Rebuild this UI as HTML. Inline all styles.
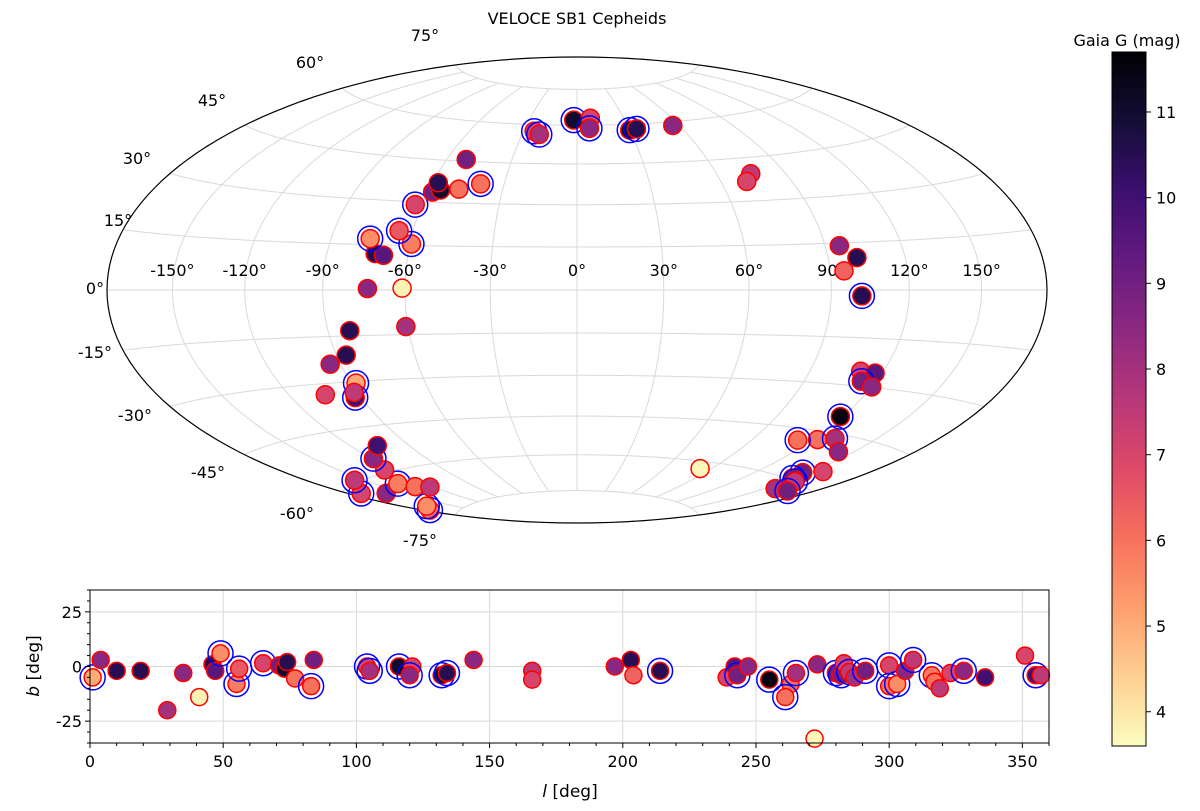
<!DOCTYPE html>
<html><head><meta charset="utf-8"><style>
body{margin:0;background:#fff;}
svg{display:block;font-family:"DejaVu Sans","Liberation Sans",sans-serif;}
</style></head><body>
<svg id="fig" width="1200" height="811" viewBox="0 0 1200 811">
<defs><linearGradient id="cb" x1="0" y1="0" x2="0" y2="1">
<stop offset="0" stop-color="#000004"/><stop offset="0.1" stop-color="#140e36"/><stop offset="0.2" stop-color="#3b0f70"/><stop offset="0.3" stop-color="#641a80"/><stop offset="0.4" stop-color="#8c2981"/><stop offset="0.5" stop-color="#b73779"/><stop offset="0.6" stop-color="#de4968"/><stop offset="0.7" stop-color="#f7705c"/><stop offset="0.8" stop-color="#fe9f6d"/><stop offset="0.9" stop-color="#fecf92"/><stop offset="1" stop-color="#fcfdbf"/></linearGradient></defs>
<text x="577" y="24" font-size="16" text-anchor="middle">VELOCE SB1 Cepheids</text>
<g id="sky"></g>
<g id="low"></g>
<g id="cbar"></g>
</svg>
<script>
const gl=[1,4,10,19,29,35,41,46,47,49,55,56,65,71,73,74,77,83,84,104,105,116,121,120,132,134,144,166,166,197,203,204,214,239,242,243,247,255,263,261,265,272,273,280,282,283,285,287,291,300,300,303,306,309,316,317,319,323,328,336,351,355,357];
const gb=[-5,3,-2,-2,-20,-3,-14,1,-2,6,-8,-1,1.5,0.5,-1,2,-5.5,-9,3,0,-2,0,0,-4,-4,-3,3,-2,-6,0,3,-4,-2,-5,0,-4,0,-6,-8,-14,-3,-33,1,-3,-4,1.5,-2.5,-5,-2,0.5,-9,-8,-2,3,-4,-7,-10,-3,-2,-5,5,-4,-4];
const gmag=[5,8.5,10.5,10.5,8,8.5,3.8,10.5,9.5,5.5,5.8,6.5,7,9,11,10.5,6,6,9,7,8,11,7,8.5,11,10.5,8.5,7.5,7,8.5,10.5,6.3,10.5,7,9.5,9,8.5,11.5,6,6,8,3.7,8.5,9,9,7,7.5,8,9,7,6,5.5,8.5,7.5,5.8,6,7.5,7,8.5,10,7,10,7.5];
const ring=[1,0,0,0,0,0,0,0,0,1,1,1,1,0,0,0,0,1,0,1,1,1,0,1,1,1,0,0,0,0,0,0,1,0,0,1,0,1,0,1,1,0,0,1,1,0,1,0,1,1,1,1,0,1,1,0,0,0,1,0,0,1,0];
const lonTicks=[-150,-120,-90,-60,-30,0,30,60,90,120,150];
const latLabels=[75,60,45,30,15,0,-15,-30,-45,-60,-75];
const lTicks=[0,50,100,150,200,250,300,350];
const bTicks=[25,0,-25];
const cTicks=[4,5,6,7,8,9,10,11];
const VMIN=3.6,VMAX=11.7;
const NS="http://www.w3.org/2000/svg";
function mk(p,t,a){const e=document.createElementNS(NS,t);for(const k in a)e.setAttribute(k,a[k]);p.appendChild(e);return e;}
const stops=[[0,0,4],[20,14,54],[59,15,112],[100,26,128],[140,41,129],[183,55,121],[222,73,104],[247,112,92],[254,159,109],[254,207,146],[252,253,191]];
function cmap(g){let t=1-(g-VMIN)/(VMAX-VMIN);t=Math.max(0,Math.min(1,t))*10;const i=Math.min(9,Math.floor(t)),f=t-i;const a=stops[i],b=stops[i+1];return `rgb(${a.map((v,k)=>Math.round(v+(b[k]-v)*f)).join(',')})`;}
const D=Math.PI/180,CX=577,CY=290,AX=470/(2*Math.SQRT2),AY=233/Math.SQRT2;
function ham(lon,lat){const c=Math.cos(lat*D),d=Math.sqrt(1+c*Math.cos(lon*D/2));return [CX+AX*2*Math.SQRT2*c*Math.sin(lon*D/2)/d,CY-AY*Math.SQRT2*Math.sin(lat*D)/d];}
function g2e(l,b){const aG=192.85948*D,dG=27.12825*D,lN=122.93192*D;l*=D;b*=D;
const sd=Math.sin(b)*Math.sin(dG)+Math.cos(b)*Math.cos(dG)*Math.cos(lN-l);
let ra=aG+Math.atan2(Math.cos(b)*Math.sin(lN-l),Math.sin(b)*Math.cos(dG)-Math.cos(b)*Math.sin(dG)*Math.cos(lN-l));
ra=((ra/D)%360+360)%360;if(ra>180)ra-=360;return [ra,Math.asin(sd)/D];}
const sky=document.getElementById('sky');
for(let lat=-75;lat<=75;lat+=15){let p=[];for(let lo=-180;lo<=180;lo+=3)p.push(ham(lo,lat).join(','));
const e=mk(sky,'polyline',{points:p.join(' '),fill:'none',stroke:'#d9d9d9','stroke-width':1});

}
for(const lo of lonTicks){let p=[];for(let lat=-75;lat<=75;lat+=3)p.push(ham(lo,lat).join(','));
const e=mk(sky,'polyline',{points:p.join(' '),fill:'none',stroke:'#d9d9d9','stroke-width':1});

}
{let p=[];for(let lat=-90;lat<=90;lat+=2)p.push(ham(180,lat).join(','));for(let lat=90;lat>=-90;lat-=2)p.push(ham(-180,lat).join(','));
const e=mk(sky,'polygon',{points:p.join(' '),fill:'none',stroke:'#000','stroke-width':1.2});

}
for(const lo of lonTicks){const [x]=ham(lo,0);const t=mk(sky,'text',{x:x,y:276,'font-size':16,'text-anchor':'middle'});t.textContent=lo+'°';

}
const latPos={75:[425,41],60:[310,68],45:[212,106],30:[137,164],15:[118,226],0:[95,294],'-15':[95,358],'-30':[135,421],'-45':[208,478],'-60':[297,519],'-75':[420,546]};
for(const la of latLabels){const p=latPos[la];const t=mk(sky,'text',{x:p[0],y:p[1],'font-size':16,'text-anchor':'middle'});t.textContent=la+'°';

}
const low=document.getElementById('low');
const X0=90,X1=1049,Y0=590,Y1=743;
const lx=l=>X0+(X1-X0)*l/360, by=b=>Y0+(Y1-Y0)*(35-b)/70;
for(const l of lTicks){const e=mk(low,'line',{x1:lx(l),x2:lx(l),y1:Y0,y2:Y1,stroke:'#d9d9d9','stroke-width':1});

}
for(const b of bTicks){const e=mk(low,'line',{x1:X0,x2:X1,y1:by(b),y2:by(b),stroke:'#d9d9d9','stroke-width':1});

}
for(let i=0;i<gl.length;i++){
const [ra,de]=g2e(gl[i],gb[i]);const [x,y]=ham(ra,de);
const c=mk(sky,'circle',{cx:x,cy:y,r:9,fill:cmap(gmag[i]),stroke:'#ff0000','stroke-width':1.5});


if(ring[i]){const r=mk(sky,'circle',{cx:x,cy:y,r:12.5,fill:'none',stroke:'#0000ff','stroke-width':1.5});

}
const c2=mk(low,'circle',{cx:lx(gl[i]),cy:Math.min(by(gb[i]),Y1),r:8.5,fill:cmap(gmag[i]),stroke:'#ff0000','stroke-width':1.5});


if(ring[i]){const r2=mk(low,'circle',{cx:lx(gl[i]),cy:by(gb[i]),r:12.5,fill:'none',stroke:'#0000ff','stroke-width':1.5});

}
}
{const f=mk(low,'rect',{x:X0,y:Y0,width:X1-X0,height:Y1-Y0,fill:'none',stroke:'#000','stroke-width':1});

}
for(let l=0;l<=360;l+=10){const maj=l%50===0;const e=mk(low,'line',{x1:lx(l),x2:lx(l),y1:Y1,y2:Y1+(maj?5:3),stroke:'#000'});

}
for(let b=-35;b<=35;b+=5){const maj=b%25===0;const e=mk(low,'line',{x1:X0,x2:X0-(maj?5:3),y1:by(b),y2:by(b),stroke:'#000'});

}
for(const l of lTicks){const t=mk(low,'text',{x:lx(l),y:767,'font-size':16,'text-anchor':'middle'});t.textContent=l;

}
for(const b of bTicks){const t=mk(low,'text',{x:X0-8,y:by(b)+6,'font-size':16,'text-anchor':'end'});t.textContent=b;

}
{const t=mk(low,'text',{x:570,y:797,'font-size':17,'text-anchor':'middle'});t.innerHTML='<tspan font-style="italic">l</tspan> [deg]';


const u=mk(low,'text',{x:0,y:0,'font-size':17,'text-anchor':'middle',transform:'translate(39,666) rotate(-90)'});u.innerHTML='<tspan font-style="italic">b</tspan> [deg]';

}
const cb=document.getElementById('cbar');
const CB0=52,CB1=746,cy=g=>CB0+(CB1-CB0)*(VMAX-g)/(VMAX-VMIN);
{const r=mk(cb,'rect',{x:1112,y:CB0,width:34,height:CB1-CB0,fill:'url(#cb)',stroke:'#000','stroke-width':1});


const t=mk(cb,'text',{x:1127,y:46,'font-size':16,'text-anchor':'middle'});t.textContent='Gaia G (mag)';

}
for(const g of cTicks){const l=mk(cb,'line',{x1:1146,x2:1151,y1:cy(g),y2:cy(g),stroke:'#000'});


const t=mk(cb,'text',{x:1156,y:cy(g)+6,'font-size':16});t.textContent=g;

}
</script>
</body></html>
